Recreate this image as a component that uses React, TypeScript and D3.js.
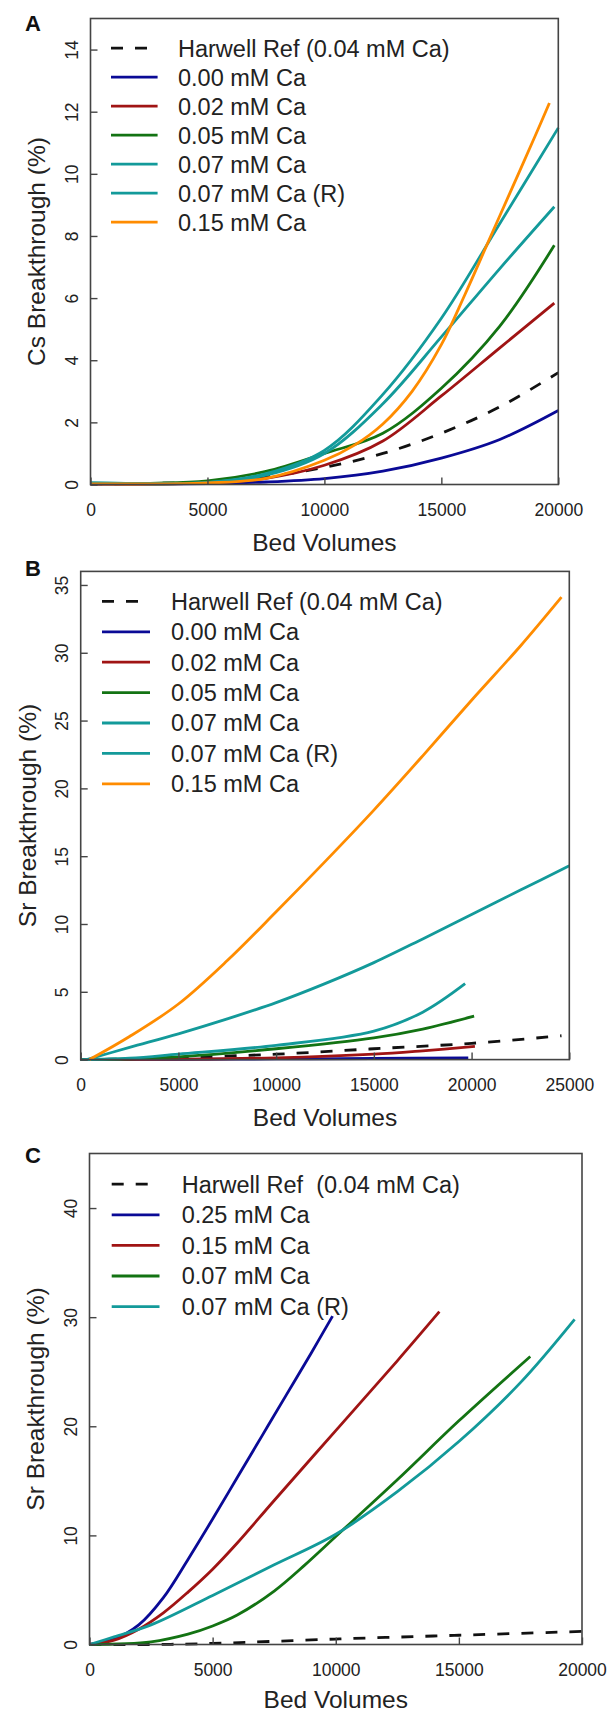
import * as d3 from 'd3';
import { useEffect, useRef } from 'react';

// ---- Panel A : Cs breakthrough ----
const csHarwellBV = [0, 5000, 7500, 10000, 12500, 15000, 17500, 20000];
const csHarwell = [0.02, 0.08, 0.25, 0.55, 1.0, 1.65, 2.5, 3.6];
const csCa000BV = [0, 5000, 7500, 10000, 12500, 15000, 17500, 20000];
const csCa000 = [0.01, 0.03, 0.08, 0.19, 0.43, 0.85, 1.45, 2.38];
const csCa002BV = [0, 5000, 7500, 10000, 12500, 15000, 17500, 19830];
const csCa002 = [0.02, 0.05, 0.2, 0.62, 1.4, 2.85, 4.4, 5.84];
const csCa005BV = [0, 5000, 7500, 10000, 12500, 15000, 17500, 19830];
const csCa005 = [0.03, 0.12, 0.42, 1.0, 1.65, 3.1, 5.1, 7.7];
const csCa007BV = [0, 5000, 7500, 10000, 12500, 15000, 17500, 20000];
const csCa007 = [0.05, 0.07, 0.35, 1.1, 2.9, 5.35, 8.4, 11.48];
const csCa007RBV = [0, 5000, 7500, 10000, 12500, 15000, 17500, 19830];
const csCa007R = [0.05, 0.06, 0.3, 1.0, 2.6, 4.75, 6.95, 8.94];
const csCa015BV = [0, 5000, 7500, 10000, 11250, 12500, 13750, 15000, 16000, 17000, 18000, 19000, 19620];
const csCa015 = [0.02, 0.05, 0.2, 0.78, 1.25, 1.95, 3.0, 4.5, 6.1, 7.8, 9.5, 11.2, 12.28];

// ---- Panel B : Sr breakthrough ----
const srHarwellBV = [0, 2500, 5000, 10000, 15000, 20000, 24600];
const srHarwell = [0, 0.05, 0.15, 0.4, 0.8, 1.2, 1.76];
const srCa000BV = [0, 5000, 10000, 15000, 19830];
const srCa000 = [0, 0.02, 0.05, 0.08, 0.13];
const srCa002BV = [0, 5000, 10000, 15000, 17500, 20170];
const srCa002 = [0, 0.03, 0.13, 0.4, 0.65, 0.97];
const srCa005BV = [0, 2500, 5000, 10000, 15000, 17500, 20130];
const srCa005 = [0, 0.05, 0.2, 0.8, 1.6, 2.25, 3.2];
const srCa007BV = [0, 2500, 5000, 10000, 15000, 17500, 19670];
const srCa007 = [0, 0.1, 0.4, 1.05, 2.1, 3.5, 5.6];
const srCa007RBV = [300, 2500, 5000, 7500, 10000, 12500, 15000, 17500, 20000, 22500, 25000];
const srCa007R = [0, 0.9, 1.9, 3.0, 4.2, 5.6, 7.15, 8.9, 10.7, 12.5, 14.3];
const srCa015BV = [450, 2500, 5000, 7500, 10000, 12500, 15000, 17500, 20000, 22500, 24600];
const srCa015 = [0, 1.7, 4.1, 7.3, 10.9, 14.6, 18.4, 22.4, 26.5, 30.5, 34.1];

// ---- Panel C : Sr breakthrough, higher Ca ----
const hcHarwellBV = [0, 2500, 5000, 10000, 15000, 20000];
const hcHarwell = [0, 0, 0.1, 0.5, 0.85, 1.2];
const hcCa025BV = [0, 1000, 2000, 3000, 4000, 5000, 6000, 7000, 8000, 9000, 9870];
const hcCa025 = [0, 0.5, 1.8, 4.3, 7.8, 11.5, 15.3, 19.1, 22.9, 26.7, 30.1];
const hcCa015BV = [0, 1000, 2000, 3000, 4000, 5000, 6000, 7500, 10000, 12500, 14208];
const hcCa015 = [0, 0.4, 1.4, 2.9, 4.8, 6.9, 9.3, 13.2, 19.6, 26.0, 30.5];
const hcCa007BV = [0, 2500, 4000, 5000, 6000, 7500, 8750, 10000, 12500, 15000, 17900];
const hcCa007 = [0, 0.25, 0.95, 1.7, 2.7, 4.9, 7.3, 9.9, 15.1, 20.5, 26.4];
const hcCa007RBV = [0, 1000, 2500, 5000, 7500, 10000, 12500, 15000, 17500, 19700];
const hcCa007R = [0, 0.7, 1.8, 4.5, 7.3, 10.1, 14.0, 18.6, 24.0, 29.8];

const legendA = ['Harwell Ref (0.04 mM Ca)', '0.00 mM Ca', '0.02 mM Ca', '0.05 mM Ca', '0.07 mM Ca', '0.07 mM Ca (R)', '0.15 mM Ca'];
const legendC = ['Harwell Ref  (0.04 mM Ca)', '0.25 mM Ca', '0.15 mM Ca', '0.07 mM Ca', '0.07 mM Ca (R)'];

const BLACK = '#111';
const BLUE = '#0a0a96';
const RED = '#a01414';
const GREEN = '#137313';
const TEAL = '#139a9a';
const ORANGE = '#ff8c00';

const zip = (xs, ys) => xs.map((x, i) => [x, ys[i]]);

const panels = [
    {
        letter: 'A', left: 90.5, right: 558.3, top: 18.5, bottom: 484.5, xMax: 20000, yMax: 15,
        xTicks: d3.range(0, 20001, 5000), yTicks: d3.range(0, 15, 2), yTitle: 'Cs Breakthrough (%)',
        legend: { x1: 111, x2: 157.6, tx: 178, y0: 48.2, dy: 29 }, letterY: 31, titleY: 551,
        labels: legendA,
        series: [
            { pts: zip(csHarwellBV, csHarwell), color: BLACK, dash: true },
            { pts: zip(csCa000BV, csCa000), color: BLUE },
            { pts: zip(csCa002BV, csCa002), color: RED },
            { pts: zip(csCa005BV, csCa005), color: GREEN },
            { pts: zip(csCa007BV, csCa007), color: TEAL },
            { pts: zip(csCa007RBV, csCa007R), color: TEAL },
            { pts: zip(csCa015BV, csCa015), color: ORANGE },
        ],
    },
    {
        letter: 'B', left: 80.7, right: 569.3, top: 571.4, bottom: 1059.6, xMax: 25000, yMax: 36,
        xTicks: d3.range(0, 25001, 5000), yTicks: d3.range(0, 36, 5), yTitle: 'Sr Breakthrough (%)',
        legend: { x1: 102, x2: 150, tx: 171, y0: 601.4, dy: 30.4 }, letterY: 576, titleY: 1126,
        labels: legendA,
        series: [
            { pts: zip(srHarwellBV, srHarwell), color: BLACK, dash: true },
            { pts: zip(srCa000BV, srCa000), color: BLUE },
            { pts: zip(srCa002BV, srCa002), color: RED },
            { pts: zip(srCa005BV, srCa005), color: GREEN },
            { pts: zip(srCa007BV, srCa007), color: TEAL },
            { pts: zip(srCa007RBV, srCa007R), color: TEAL },
            { pts: zip(srCa015BV, srCa015), color: ORANGE },
        ],
    },
    {
        letter: 'C', left: 89.5, right: 582, top: 1153.5, bottom: 1644.5, xMax: 20000, yMax: 45,
        xTicks: d3.range(0, 20001, 5000), yTicks: d3.range(0, 41, 10), yTitle: 'Sr Breakthrough (%)',
        legend: { x1: 111.7, x2: 159.5, tx: 181.7, y0: 1184.2, dy: 30.6 }, letterY: 1162.6, titleY: 1708,
        labels: legendC,
        series: [
            { pts: zip(hcHarwellBV, hcHarwell), color: BLACK, dash: true },
            { pts: zip(hcCa025BV, hcCa025), color: BLUE },
            { pts: zip(hcCa015BV, hcCa015), color: RED },
            { pts: zip(hcCa007BV, hcCa007), color: GREEN },
            { pts: zip(hcCa007RBV, hcCa007R), color: TEAL },
        ],
    },
];

export default function App() {
    const svgCur = useRef(null);

    useEffect(() => {
        if (!svgCur.current) return;
        const svg = d3.select(svgCur.current);
        svg.selectAll('*').remove();
        const font = 'Liberation Sans, Arial, Helvetica, sans-serif';

        panels.forEach((p) => {
            const x = d3.scaleLinear().domain([0, p.xMax]).range([p.left, p.right]);
            const y = d3.scaleLinear().domain([0, p.yMax]).range([p.bottom, p.top]);
            const g = svg.append('g');

            const line = d3.line()
                .x((d) => x(d[0]))
                .y((d) => y(d[1]))
                .curve(d3.curveCatmullRom.alpha(0.5));

            // curves in legend order
            p.series.forEach((s) => {
                g.append('path')
                    .datum(s.pts)
                    .attr('fill', 'none')
                    .attr('stroke', s.color)
                    .attr('stroke-width', 2.8)
                    .attr('stroke-dasharray', s.dash ? '12,12' : null)
                    .attr('d', line);
            });

            // frame
            g.append('rect')
                .attr('x', p.left).attr('y', p.top)
                .attr('width', p.right - p.left).attr('height', p.bottom - p.top)
                .attr('fill', 'none').attr('stroke', '#444').attr('stroke-width', 1.6);

            // ticks point inwards
            const xAxis = d3.axisBottom(x).tickValues(p.xTicks).tickSize(-7).tickFormat(d3.format('d'));
            g.append('g')
                .attr('transform', `translate(0,${p.bottom})`)
                .call(xAxis)
                .call((a) => a.select('.domain').remove())
                .call((a) => a.selectAll('line').attr('stroke', '#444').attr('stroke-width', 1.4))
                .call((a) => a.selectAll('text')
                    .attr('y', 25).attr('dy', '0.36em')
                    .attr('fill', '#222').attr('font-family', font).attr('font-size', 17.5));

            const yAxis = d3.axisLeft(y).tickValues(p.yTicks).tickSize(-7).tickFormat(d3.format('d'));
            g.append('g')
                .attr('transform', `translate(${p.left},0)`)
                .call(yAxis)
                .call((a) => a.select('.domain').remove())
                .call((a) => a.selectAll('line').attr('stroke', '#444').attr('stroke-width', 1.4))
                .call((a) => a.selectAll('text')
                    .attr('x', null)
                    .attr('transform', 'translate(-19,0) rotate(-90)')
                    .attr('text-anchor', 'middle').attr('dy', '0.36em')
                    .attr('fill', '#222').attr('font-family', font).attr('font-size', 17.5));

            // axis titles
            g.append('text')
                .attr('x', (p.left + p.right) / 2).attr('y', p.titleY)
                .attr('text-anchor', 'middle')
                .attr('font-family', font).attr('font-size', 24.5).attr('fill', '#222')
                .text('Bed Volumes');
            g.append('text')
                .attr('transform', `translate(${p.left - 54},${(p.top + p.bottom) / 2}) rotate(-90)`)
                .attr('text-anchor', 'middle').attr('dy', '0.36em')
                .attr('font-family', font).attr('font-size', 24.5).attr('fill', '#222')
                .text(p.yTitle);

            // panel letter
            g.append('text')
                .attr('x', 25).attr('y', p.letterY)
                .attr('font-family', font).attr('font-weight', 'bold').attr('font-size', 22).attr('fill', '#111')
                .text(p.letter);

            // legend
            const lg = g.append('g');
            p.labels.forEach((lab, i) => {
                const s = p.series[i];
                const ly = p.legend.y0 + i * p.legend.dy;
                lg.append('line')
                    .attr('x1', p.legend.x1).attr('x2', p.legend.x2)
                    .attr('y1', ly).attr('y2', ly)
                    .attr('stroke', s.color).attr('stroke-width', 2.8)
                    .attr('stroke-dasharray', s.dash ? '12,12' : null);
                lg.append('text')
                    .attr('x', p.legend.tx).attr('y', ly).attr('dy', '0.36em')
                    .style('white-space', 'pre')
                    .attr('font-family', font).attr('font-size', 23.5).attr('fill', '#222')
                    .text(lab);
            });
        });
    }, []);

    return (
        <div>
            <svg ref={svgCur} width={610} height={1714}
                style={{ position: 'absolute', left: 0, top: 0, background: '#fff' }}></svg>
        </div>
    );
}
